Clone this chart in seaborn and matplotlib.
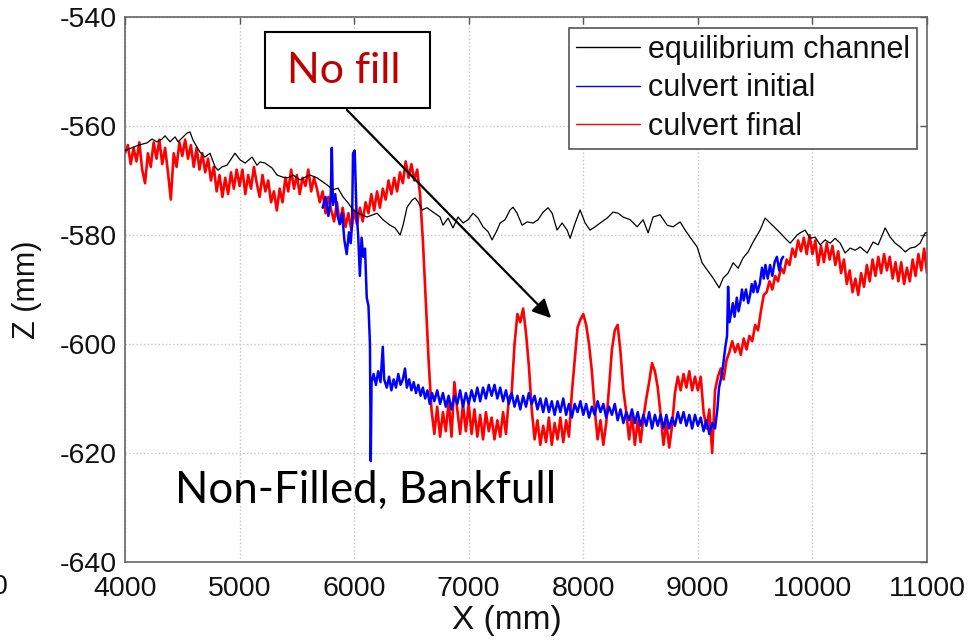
import numpy as np
import pandas as pd
import matplotlib
matplotlib.use("Agg")
import matplotlib.pyplot as plt
from matplotlib.patches import Rectangle
from matplotlib.lines import Line2D
import seaborn as sns

# ---------------- data ----------------
STEP = 25  # sampling step of the red / blue profiles (mm)

black_x = [4000, 4060, 4120, 4192, 4236, 4279, 4323, 4349, 4393, 4437, 4463, 4498, 4541, 4567,
           4594, 4629, 4655, 4698, 4742, 4786, 4812, 4847, 4890, 4960, 5004, 5048, 5109, 5152,
           5179, 5222, 5283, 5327, 5379, 5423, 5467, 5528, 5571, 5615, 5676, 5702, 5763, 5816,
           5859, 5903, 5947, 5990, 6034, 6113, 6200, 6252, 6313, 6357, 6401, 6427, 6462, 6506,
           6532, 6558, 6593, 6636, 6689, 6750, 6776, 6820, 6863, 6907, 6951, 6994, 7038, 7082,
           7125, 7169, 7204, 7248, 7274, 7317, 7361, 7387, 7422, 7466, 7509, 7562, 7605, 7649,
           7693, 7728, 7771, 7815, 7859, 7885, 7929, 7972, 8016, 8059, 8103, 8147, 8208, 8260,
           8304, 8347, 8409, 8470, 8522, 8566, 8609, 8671, 8732, 8784, 8845, 8889, 8932, 8994,
           9037, 9081, 9133, 9186, 9221, 9264, 9308, 9352, 9395, 9439, 9482, 9543, 9587, 9631,
           9675, 9718, 9762, 9806, 9867, 9893, 9936, 9980, 10024, 10067, 10111, 10155, 10198,
           10242, 10286, 10329, 10373, 10417, 10478, 10530, 10574, 10635, 10679, 10722, 10766,
           10810, 10853, 10897, 10940, 10984, 11000]
black_z = [-564.5, -564.0, -563.5, -563.1, -562.4, -562.9, -562.4, -561.8, -562.9, -562.0, -562.9,
           -562.2, -561.3, -561.1, -562.6, -563.9, -564.8, -565.7, -565.0, -567.5, -568.1, -567.5,
           -567.2, -565.0, -566.2, -566.8, -565.7, -567.2, -566.6, -566.8, -567.7, -569.0, -569.4,
           -569.5, -569.0, -569.9, -569.4, -569.0, -569.5, -569.9, -570.8, -571.7, -571.4, -573.0,
           -574.1, -575.4, -576.0, -576.7, -576.0, -577.2, -578.2, -578.7, -580.0, -578.2, -574.9,
           -573.6, -573.2, -573.9, -575.4, -575.0, -575.8, -576.7, -578.2, -576.9, -578.7, -576.7,
           -577.8, -577.2, -576.0, -576.9, -578.5, -579.4, -580.9, -579.1, -577.8, -577.2, -575.4,
           -574.9, -576.0, -578.2, -577.6, -577.8, -577.2, -575.8, -575.0, -576.0, -579.1, -577.8,
           -579.1, -580.6, -577.8, -575.4, -577.8, -579.1, -578.5, -577.8, -576.9, -575.8, -576.0,
           -576.7, -577.2, -578.5, -577.2, -579.6, -576.7, -576.3, -578.2, -578.5, -577.6, -579.1,
           -580.4, -582.2, -585.1, -586.4, -587.9, -589.7, -587.9, -587.0, -585.1, -586.1, -584.2,
           -583.1, -581.3, -579.1, -576.9, -577.8, -578.7, -579.6, -580.6, -581.5, -580.0, -579.6,
           -579.1, -580.6, -580.4, -581.8, -580.9, -581.5, -580.6, -581.5, -583.3, -582.4, -582.8,
           -582.2, -583.3, -581.3, -581.8, -578.7, -580.4, -581.5, -582.2, -583.1, -582.4, -582.2,
           -581.5, -579.6, -579.6]

# culvert final (red), 25 mm spacing, one list per metre
red_4000 = [-565.0, -563.5, -567.0, -564.0, -566.5, -563.0, -568.0, -570.5, -565.0, -567.5,
            -563.0, -566.0, -562.5, -567.0, -564.0, -568.5, -573.5, -565.0, -567.5, -563.0,
            -565.5, -562.5, -566.0, -563.5, -567.5, -564.0, -568.0, -565.0, -568.5, -566.0,
            -570.0, -567.5, -572.0, -569.0, -573.0, -569.5, -572.5, -568.5, -571.5, -568.0]
red_5000 = [-571.0, -568.0, -572.5, -569.0, -571.5, -567.5, -570.5, -573.0, -569.0, -572.0,
            -570.0, -574.0, -572.0, -575.5, -571.5, -574.0, -569.5, -572.0, -568.0, -571.5,
            -569.0, -572.5, -569.5, -571.0, -568.0, -572.0, -569.5, -571.5, -574.0, -572.0,
            -576.0, -573.0, -575.5, -577.5, -574.0, -578.0, -575.0, -578.5, -576.0, -579.0]
red_6000 = [-575.5, -578.0, -575.0, -577.5, -574.0, -576.0, -572.5, -575.5, -572.0, -575.0,
            -571.5, -573.5, -570.0, -572.5, -569.5, -572.0, -568.5, -570.5, -566.5, -569.5,
            -567.0, -570.0, -568.0, -572.5, -581.0, -592.0, -603.0, -612.0, -616.5, -611.5,
            -617.0, -612.5, -616.0, -610.5, -617.0, -607.0, -612.0, -616.5, -611.0, -616.0]
red_7000 = [-611.0, -616.5, -612.0, -617.0, -613.0, -617.5, -612.5, -616.0, -613.5, -617.5,
            -614.0, -617.0, -612.5, -616.5, -610.0, -609.0, -600.0, -594.5, -596.0, -593.5,
            -598.0, -604.0, -612.0, -617.5, -614.0, -618.5, -615.0, -618.0, -613.5, -618.5,
            -614.5, -617.5, -613.5, -618.0, -614.0, -617.0, -609.0, -603.0, -597.0, -595.5]
red_8000 = [-594.5, -596.5, -600.0, -605.0, -612.0, -617.5, -614.0, -618.5, -614.5, -608.0,
            -601.0, -597.5, -596.5, -601.5, -608.5, -612.5, -617.5, -613.0, -618.5, -614.0,
            -618.0, -613.5, -610.0, -607.0, -603.5, -605.0, -608.0, -613.0, -618.5, -614.5,
            -619.0, -615.0, -609.0, -606.0, -608.5, -605.5, -608.0, -605.0, -608.5, -606.0]
red_9000 = [-608.5, -606.0, -612.5, -615.5, -612.0, -620.0, -608.5, -606.0, -604.5, -606.5,
            -603.0, -601.5, -599.5, -601.5, -600.0, -602.0, -599.0, -601.0, -598.5, -599.5,
            -596.5, -597.5, -594.0, -591.0, -590.5, -588.5, -590.0, -587.5, -588.5, -586.0,
            -587.0, -584.5, -585.5, -582.5, -584.0, -581.0, -583.0, -580.5, -583.5, -580.0]
red_10000 = [-583.5, -581.0, -585.5, -582.0, -585.0, -581.5, -584.5, -582.0, -585.5, -583.0,
             -587.0, -584.5, -589.0, -586.5, -590.5, -588.0, -591.0, -587.0, -589.5, -585.5,
             -588.5, -584.5, -587.5, -584.0, -587.0, -583.5, -586.5, -584.0, -588.0, -585.0,
             -588.5, -585.0, -589.0, -586.0, -588.5, -584.5, -587.5, -583.5, -586.5, -582.5,
             -587.0]

# culvert initial (blue)
blue_a_x = [5725, 5750, 5775, 5795, 5805, 5815, 5835, 5855, 5875, 5895, 5915, 5935, 5955, 5970,
            5982, 5990, 6005, 6020, 6035, 6050, 6065, 6080, 6095, 6110, 6125, 6138, 6145, 6152,
            6170, 6190, 6210, 6230, 6250, 6262, 6285, 6305, 6325, 6345, 6365, 6385, 6405, 6425,
            6444, 6460, 6480, 6500, 6520, 6540, 6560, 6580, 6600, 6620, 6640, 6660, 6680]
blue_a_z = [-575.0, -573.0, -576.5, -573.5, -564.0, -574.5, -572.5, -576.5, -578.0, -576.0,
            -581.0, -583.5, -579.5, -581.5, -578.0, -565.0, -564.5, -575.5, -580.0, -587.5,
            -580.5, -584.0, -582.5, -591.5, -593.0, -600.0, -621.5, -607.0, -605.5, -607.5,
            -605.0, -607.0, -600.5, -606.5, -608.0, -606.0, -608.5, -606.5, -608.0, -605.5,
            -607.5, -606.5, -604.5, -608.0, -606.5, -608.5, -607.0, -609.0, -607.5, -609.5,
            -608.0, -610.0, -608.5, -611.0, -609.0]
blue_6700 = [-610.5, -608.5, -611.0, -609.0, -611.5, -609.5, -612.0, -609.5, -611.0, -608.5,
             -611.5, -609.0, -611.0, -608.5, -610.5, -608.0, -610.5, -608.0, -610.0, -607.5,
             -609.5, -607.5, -610.0, -608.0, -610.5, -608.5, -611.0, -609.0, -611.5, -609.5,
             -612.0, -609.5, -611.5, -609.0, -611.0, -609.5, -612.0, -610.0, -612.5, -610.0]
blue_7700 = [-612.5, -610.5, -613.0, -610.5, -612.5, -610.0, -613.0, -611.0, -613.5, -611.0,
             -612.5, -610.5, -613.0, -611.0, -613.5, -611.5, -613.0, -610.5, -612.5, -611.0,
             -613.5, -611.5, -613.0, -611.0, -614.0, -612.0, -614.5, -612.5, -614.0, -612.0,
             -614.5, -612.5, -615.0, -613.0, -615.0, -612.5, -615.5, -613.0, -615.0, -613.0]
blue_8700 = [-615.5, -613.0, -615.5, -613.5, -615.0, -612.5, -614.5, -612.5, -615.0, -613.0,
             -615.5, -613.0, -615.0, -613.5, -616.0, -614.0, -616.5, -614.5, -615.5]
blue_c_x = [9170, 9185, 9200, 9220, 9240, 9255, 9264, 9275, 9290, 9305, 9320, 9340, 9355, 9370,
            9385, 9400, 9420, 9440, 9456, 9470, 9485, 9500, 9520, 9540, 9560, 9575, 9590, 9610,
            9630, 9650, 9670, 9690, 9710, 9730, 9745]
blue_c_z = [-612.0, -608.0, -606.5, -604.0, -600.5, -598.5, -589.5, -596.0, -594.5, -592.5,
            -595.0, -591.5, -594.0, -592.5, -590.0, -592.0, -590.0, -592.5, -591.0, -589.0,
            -590.5, -588.5, -590.5, -589.0, -586.0, -588.0, -585.5, -588.0, -585.5, -587.5,
            -585.0, -584.0, -586.5, -584.5, -584.0]

series_names = ["equilibrium channel", "culvert initial", "culvert final"]
series_colors = ["#000000", "#0000ff", "#ff0000"]
x_ticks = [4000, 5000, 6000, 7000, 8000, 9000, 10000, 11000]
y_ticks = [-640, -620, -600, -580, -560, -540]


def uniform(start, values):
    return list(start + STEP * np.arange(len(values)))


red_x, red_z = [], []
for start, vals in [(4000, red_4000), (5000, red_5000), (6000, red_6000), (7000, red_7000),
                    (8000, red_8000), (9000, red_9000), (10000, red_10000)]:
    red_x += uniform(start, vals)
    red_z += vals

blue_x = list(blue_a_x) + uniform(6700, blue_6700) + uniform(7700, blue_7700) + \
    uniform(8700, blue_8700) + list(blue_c_x)
blue_z = list(blue_a_z) + blue_6700 + blue_7700 + blue_8700 + list(blue_c_z)

df_black = pd.DataFrame({"X": black_x, "Z": black_z})
df_blue = pd.DataFrame({"X": blue_x, "Z": blue_z})
df_red = pd.DataFrame({"X": red_x, "Z": red_z})

# ---------------- figure ----------------
sns.set_theme(style="white")
plt.rcParams["font.family"] = ["Liberation Sans", "DejaVu Sans"]
plt.rcParams["axes.unicode_minus"] = False

W, H = 970, 640
fig = plt.figure(figsize=(W / 100, H / 100), dpi=100)
L, R, T, B = 125, 927, 17, 562
ax = fig.add_axes([L / W, 1 - B / H, (R - L) / W, (B - T) / H])

sns.lineplot(data=df_red, x="X", y="Z", ax=ax, color=series_colors[2], linewidth=1.9,
             estimator=None, sort=False, zorder=2)
sns.lineplot(data=df_blue, x="X", y="Z", ax=ax, color=series_colors[1], linewidth=1.8,
             estimator=None, sort=False, zorder=3)
sns.lineplot(data=df_black, x="X", y="Z", ax=ax, color=series_colors[0], linewidth=0.9,
             estimator=None, sort=False, zorder=4)

ax.set_xlim(4000, 11000)
ax.set_ylim(-640, -540)
ax.set_xticks(x_ticks)
ax.set_yticks(y_ticks)
ax.set_xticklabels([str(v) for v in x_ticks])
ax.set_yticklabels([str(v) for v in y_ticks])
ax.tick_params(direction="in", length=5, width=1, top=True, right=True,
               labelsize=20.5, color="#555555", labelcolor="#111111")
ax.tick_params(axis="x", pad=10)
ax.tick_params(axis="y", pad=6)
ax.grid(True, linestyle=":", color="#c4c4c4", linewidth=1.0)
for s in ax.spines.values():
    s.set_color("#666666")
    s.set_linewidth(1.2)

ax.set_xlabel("X (mm)", fontsize=24, color="#111111")
ax.set_ylabel("Z (mm)", fontsize=22, color="#111111")
ax.xaxis.set_label_coords(0.476, -0.078)
ax.yaxis.set_label_coords(-0.104, 0.5)

# legend
handles = [Line2D([], [], color=c, lw=1.0) for c in series_colors]
leg = ax.legend(handles, series_names, loc="upper right",
                bbox_to_anchor=((917 - L) / (R - L), 1 - (28 - T) / (B - T)),
                borderaxespad=0, fontsize=22, frameon=True, fancybox=False,
                handlelength=2.1, handletextpad=0.28, labelspacing=0.28,
                borderpad=0.22)
leg.get_frame().set_edgecolor("#555555")
leg.get_frame().set_linewidth(1.2)
leg.get_frame().set_facecolor("white")
leg.get_frame().set_alpha(1)
for t in leg.get_texts():
    t.set_color("#111111")

# annotations
fig.patches.append(Rectangle((265 / W, 1 - 108 / H), 165 / W, 76 / H,
                             transform=fig.transFigure, facecolor="white",
                             edgecolor="black", linewidth=1.5, zorder=5))
fig.text(344 / W, 1 - 71 / H, "No fill", color="#c00000", fontsize=31,
         family=["Lato", "DejaVu Sans"], ha="center", va="center", zorder=6)
ax.annotate("", xy=(7736, -595.6), xytext=(5920, -556.7),
            arrowprops=dict(arrowstyle="-|>", color="black", lw=1.6, mutation_scale=28),
            zorder=6)
ax.text(4436, -626.8, "Non-Filled, Bankfull", fontsize=31.5, color="black",
        family=["Lato", "DejaVu Sans"], ha="left", va="center", zorder=6)

# clipped leftover tick label at the far left edge
fig.text(8 / W, 1 - 587 / H, "0", fontsize=20.5, color="#111111", ha="right", va="center")

fig.savefig("out.png", dpi=100)
